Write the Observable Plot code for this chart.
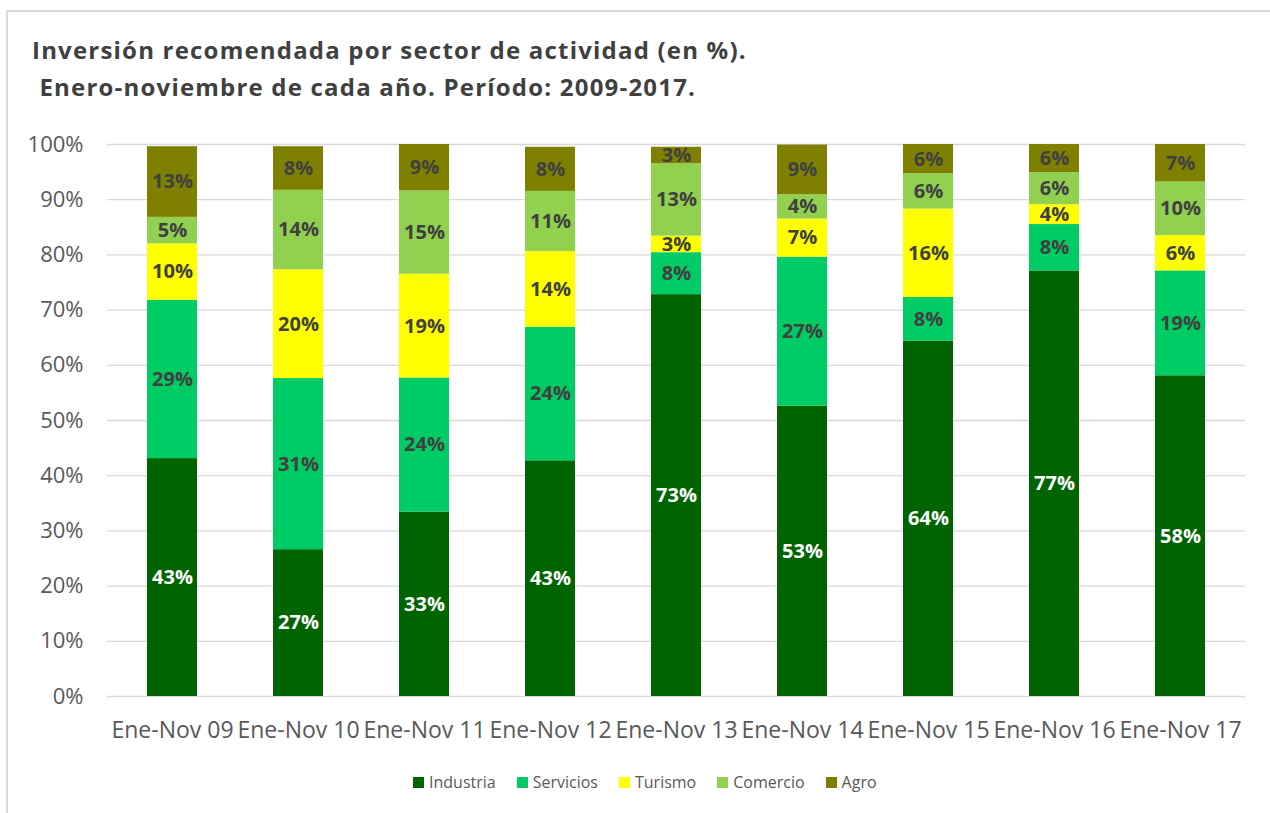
<!DOCTYPE html>
<html><head><meta charset="utf-8">
<script src="https://cdn.jsdelivr.net/npm/d3@7"></script>
<script src="https://cdn.jsdelivr.net/npm/@observablehq/plot@0.6"></script>
<style>
body{margin:0;background:#fff;width:1270px;height:813px;overflow:hidden;position:relative;font-family:"Open Sans",sans-serif;}
#frame{position:absolute;left:6px;top:10px;width:1400px;height:900px;border-left:2px solid #d9d9d9;border-top:2px solid #d9d9d9;}
#title{position:absolute;left:32px;top:31px;font-weight:bold;font-size:24px;letter-spacing:1.2px;color:#404040;line-height:37px;white-space:pre;}
#chart{position:absolute;left:0;top:110px;}
#legend{position:absolute;top:771px;left:413px;display:flex;align-items:center;font-size:16px;line-height:22px;color:#595959;}
#legend .item{display:flex;align-items:center;margin-right:21px;}
#legend .sw{width:11px;height:11px;margin-right:5px;}
</style>
</head><body>
<div id="frame"></div>
<div id="title">Inversión recomendada por sector de actividad (en %).
 Enero-noviembre de cada año. Período: 2009-2017.</div>
<div id="chart"></div>
<div id="legend"></div>
<script>
const categories = ["Ene-Nov 09","Ene-Nov 10","Ene-Nov 11","Ene-Nov 12","Ene-Nov 13","Ene-Nov 14","Ene-Nov 15","Ene-Nov 16","Ene-Nov 17"];
const sectors = ["Industria","Servicios","Turismo","Comercio","Agro"];
const industria = [43.1, 26.6, 33.4, 42.7, 72.8, 52.6, 64.4, 77.1, 58.1];
const servicios = [28.7, 31.0, 24.3, 24.2, 7.6, 27.0, 7.9, 8.4, 19.0];
const turismo   = [10.2, 19.7, 18.8, 13.7, 3.0, 6.9, 16.0, 3.6, 6.4];
const comercio  = [4.8, 14.4, 15.1, 10.9, 13.1, 4.4, 6.4, 5.8, 9.7];
const agro      = [12.8, 7.9, 9, 8, 3.0, 9, 6, 6, 7];
const colors = ["#006400","#00CC66","#FFFF00","#92D050","#808000"];
const yTicks = [0,10,20,30,40,50,60,70,80,90,100];

const series = [industria, servicios, turismo, comercio, agro];
const rows = [];
categories.forEach((cat, i) => {
  let base = 0;
  sectors.forEach((s, j) => {
    const v = series[j][i];
    const y1 = base, y2 = base + v;
    rows.push({cat, sector: s, value: v, y1, y2, mid: (y1 + Math.min(y2, 100)) / 2, label: Math.round(v) + "%"});
    base = y2;
  });
});

const chart = Plot.plot({
  width: 1270, height: 640,
  marginLeft: 107, marginRight: 25, marginTop: 34, marginBottom: 54,
  style: {fontFamily: "'Open Sans', sans-serif", background: "transparent"},
  x: {domain: categories, paddingInner: 0.6, paddingOuter: 0.3, label: null},
  y: {domain: [0, 100], label: null},
  color: {domain: sectors, range: colors},
  marks: [
    Plot.gridY(yTicks, {stroke: "#d9d9d9", strokeOpacity: 1, strokeWidth: 1.3}),
    Plot.barY(rows, {x: "cat", y1: "y1", y2: "y2", fill: "sector", clip: true}),
    Plot.text(rows.filter(d => d.sector === "Industria"), {x: "cat", y: "mid", text: "label", fill: "white", fontWeight: "bold", fontSize: 20}),
    Plot.text(rows.filter(d => d.sector !== "Industria"), {x: "cat", y: "mid", text: "label", fill: "#404040", fontWeight: "bold", fontSize: 20}),
    Plot.axisY(yTicks, {tickSize: 0, tickPadding: 24, tickFormat: d => d + "%", fontSize: 22, color: "#595959", label: null}),
    Plot.axisX({tickSize: 0, tickPadding: 25, fontSize: 23, color: "#595959", label: null})
  ]
});
document.getElementById("chart").appendChild(chart);

const legend = document.getElementById("legend");
sectors.forEach((s, j) => {
  const item = document.createElement("div");
  item.className = "item";
  const sw = document.createElement("div");
  sw.className = "sw";
  sw.style.background = colors[j];
  const t = document.createElement("span");
  t.textContent = s;
  item.appendChild(sw); item.appendChild(t);
  legend.appendChild(item);
});
</script>
</body></html>
